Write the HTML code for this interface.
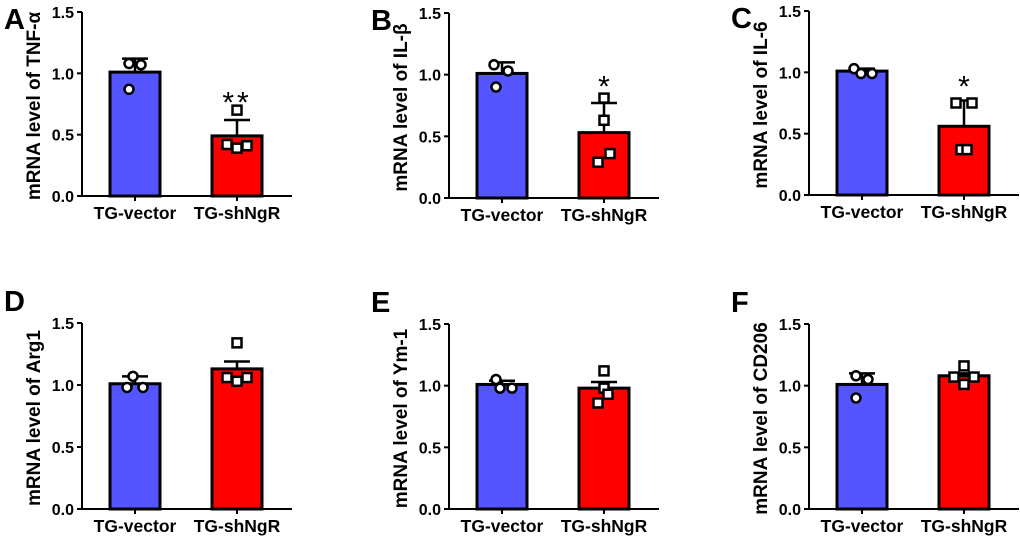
<!DOCTYPE html>
<html><head><meta charset="utf-8"><style>
html,body{margin:0;padding:0;background:#fff;}
svg{display:block;font-family:"Liberation Sans",sans-serif;font-weight:bold;}
</style></head><body>
<svg id="fig" width="1020" height="541" viewBox="0 0 1020 541"></svg>
<script>
const categories = ["TG-vector","TG-shNgR"];
const panelLetters = ["A","B","C","D","E","F"];
const yTitles = ["mRNA level of TNF-α","mRNA level of IL-β","mRNA level of IL-6","mRNA level of Arg1","mRNA level of Ym-1","mRNA level of CD206"];
const yTicks = [0,0.5,1.0,1.5];
const yTickLabels = ["0.0","0.5","1.0","1.5"];
const vectorMeans = [1.01,1.01,1.01,1.01,1.01,1.01];
const vectorErr = [1.12,1.10,1.03,1.07,1.04,1.10];
const shMeans = [0.49,0.53,0.56,1.13,0.98,1.08];
const shErr = [0.62,0.77,0.77,1.19,1.03,1.10];
const vectorPoints = [[1.08,1.07,0.87],[1.08,1.03,0.90],[1.03,0.99,0.99],[1.07,0.98,0.98],[1.05,0.98,0.98],[1.08,1.05,0.90]];
const shPoints = [[0.70,0.42,0.39,0.41],[0.81,0.63,0.29,0.36],[0.75,0.75,0.37,0.37],[1.34,1.06,1.03,1.06],[1.12,0.98,0.93,0.86],[1.16,1.07,1.01,1.07]];
const stars = ["**","*","*","","",""];
const starValues = [0.82,0.96,0.94,0,0,0];

const NS="http://www.w3.org/2000/svg";
const svg=document.getElementById('fig');
function mk(tag,attrs,parent){const e=document.createElementNS(NS,tag);for(const k in attrs)e.setAttribute(k,attrs[k]);(parent||svg).appendChild(e);return e;}
const layout=[{ax:82,y0:196,y1:12},{ax:449,y0:198,y1:13},{ax:809,y0:195,y1:11},{ax:82,y0:509,y1:323},{ax:449,y0:509,y1:324},{ax:809,y0:509,y1:324}];
const vJit=[[-6,6,-6],[-8,6,-6],[-8,-1,10],[-2,-8,8],[-6,-2,10],[-6,6,-6]];
const sJit=[[0,-10,0,10],[0,0,-6,6],[-8,8,-3,3],[0,-10,0,10],[0,0,4,-6],[0,-10,0,10]];
for(let p=0;p<6;p++){
  const L=layout[p];
  const g=mk('g',{});
  
  
  const ys=v=>L.y0-(L.y0-L.y1)*v/1.5;
  const xc=i=>L.ax+53+i*102;
  const lt=mk('text',{x:L.ax-78,y:L.y1+(p<3?17:-12),'font-size':29},g);lt.textContent=panelLetters[p];
  
  const yt=mk('text',{x:0,y:0,'font-size':19,'text-anchor':'middle',transform:`translate(${L.ax-42},${(L.y0+L.y1)/2+2}) rotate(-90)`},g);yt.textContent=yTitles[p];
  
  yTicks.forEach((t,i)=>{
    const tk=mk('line',{x1:L.ax-5,x2:L.ax,y1:ys(t),y2:ys(t),stroke:'#000','stroke-width':2},g);
    
    const tl=mk('text',{x:L.ax-8,y:ys(t)+6,'font-size':16,'text-anchor':'end'},g);tl.textContent=yTickLabels[i];
    
  });
  const means=[vectorMeans[p],shMeans[p]],errs=[vectorErr[p],shErr[p]],pts=[vectorPoints[p],shPoints[p]],jit=[vJit[p],sJit[p]];
  for(let i=0;i<2;i++){
    const cx=xc(i);
    const el=mk('line',{x1:cx,x2:cx,y1:ys(errs[i]),y2:ys(means[i]),stroke:'#000','stroke-width':2.5},g);
    
    const cap=mk('line',{x1:cx-13,x2:cx+13,y1:ys(errs[i]),y2:ys(errs[i]),stroke:'#000','stroke-width':2.5},g);
    
    const b=mk('rect',{x:cx-25,y:ys(means[i]),width:50,height:L.y0-ys(means[i]),fill:i?'#ff0000':'#5555ff',stroke:'#000','stroke-width':3},g);
    
    pts[i].forEach((v,k)=>{
      const px=cx+(jit[i][k]||0),py=ys(v);
      let m;
      if(i==0)m=mk('circle',{cx:px,cy:py,r:4.5,fill:'#fff',stroke:'#000','stroke-width':2.5},g);
      else m=mk('rect',{x:px-4.5,y:py-4.5,width:9,height:9,fill:'#fff',stroke:'#000','stroke-width':2.5},g);
      
    });
    const xt=mk('line',{x1:cx,x2:cx,y1:L.y0,y2:L.y0+5,stroke:'#000','stroke-width':2},g);
    
    const xl=mk('text',{x:cx,y:L.y0+23,'font-size':17.5,'text-anchor':'middle'},g);xl.textContent=categories[i];
    
  }
  const ya=mk('line',{x1:L.ax,x2:L.ax,y1:L.y1,y2:L.y0,stroke:'#000','stroke-width':2},g);
  
  const xa=mk('line',{x1:L.ax-1,x2:L.ax+210,y1:L.y0,y2:L.y0,stroke:'#000','stroke-width':2},g);
  
  if(stars[p]){
    const st=mk('text',{x:xc(1),y:ys(starValues[p])+17,'font-size':30,'font-weight':'normal','text-anchor':'middle','letter-spacing':p==0?3:0},g);st.textContent=stars[p];
    
  }
}
</script>
</body></html>
